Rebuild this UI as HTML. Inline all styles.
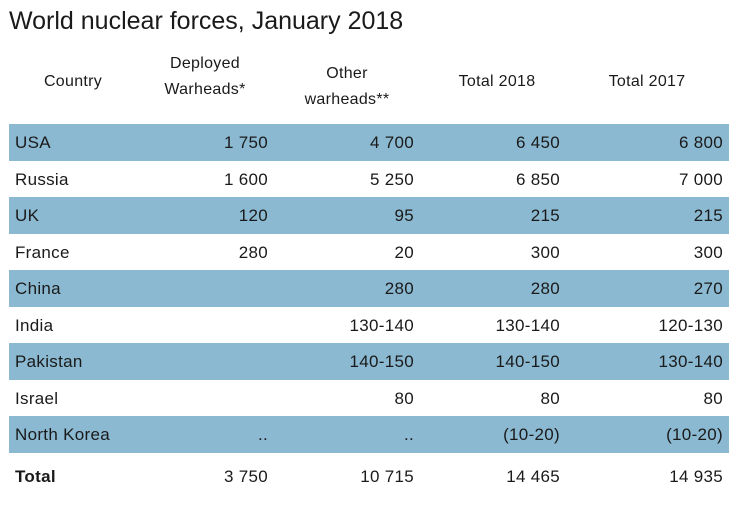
<!DOCTYPE html>
<html><head><meta charset="utf-8"><style>
body{margin:0;width:740px;height:505px;background:#fff;font-family:"Liberation Sans",Arial,sans-serif;color:#1a1a1a;position:relative;overflow:hidden}
.t{position:absolute;white-space:nowrap;font-size:17px;line-height:18px;letter-spacing:0.3px}
.band{position:absolute;left:9px;width:720px;background:#8bb9d1}
.r{text-align:right}
.c{text-align:center}
</style></head><body>
<div class="t" style="left:9px;top:7px;font-size:25px;line-height:28px;letter-spacing:0">World nuclear forces, January 2018</div>
<div class="t c" style="left:23px;width:100px;top:73px;font-size:16px">Country</div>
<div class="t c" style="left:145px;width:120px;top:51px;line-height:26px;font-size:16px">Deployed<br>Warheads*</div>
<div class="t c" style="left:287px;width:120px;top:61px;line-height:26px;font-size:16px">Other<br>warheads**</div>
<div class="t c" style="left:437px;width:120px;top:73px;font-size:16px">Total 2018</div>
<div class="t c" style="left:587px;width:120px;top:73px;font-size:16px">Total 2017</div>
<div class="band" style="top:124px;height:37px"></div>
<div class="band" style="top:197px;height:37px"></div>
<div class="band" style="top:270px;height:37px"></div>
<div class="band" style="top:343px;height:37px"></div>
<div class="band" style="top:416px;height:37px"></div>
<div id="rows"></div>
<script>
var d=[["USA","1 750","4 700","6 450","6 800"],["Russia","1 600","5 250","6 850","7 000"],["UK","120","95","215","215"],["France","280","20","300","300"],["China","","280","280","270"],["India","","130-140","130-140","120-130"],["Pakistan","","140-150","140-150","130-140"],["Israel","","80","80","80"],["North Korea","..","..","(10-20)","(10-20)"],["Total","3 750","10 715","14 465","14 935"]];
var R=[268,414,560,723],h='';
d.forEach(function(r,i){var y=134+i*36.5+(i==9?5:0);
h+='<div class="t" style="left:15px;top:'+y+'px'+(i==9?';font-weight:bold':'')+'">'+r[0]+'</div>';
for(var j=1;j<5;j++)h+='<div class="t r" style="left:'+(R[j-1]-150)+'px;width:150px;top:'+y+'px">'+r[j]+'</div>';});
document.getElementById('rows').innerHTML=h;
</script>
</body></html>
